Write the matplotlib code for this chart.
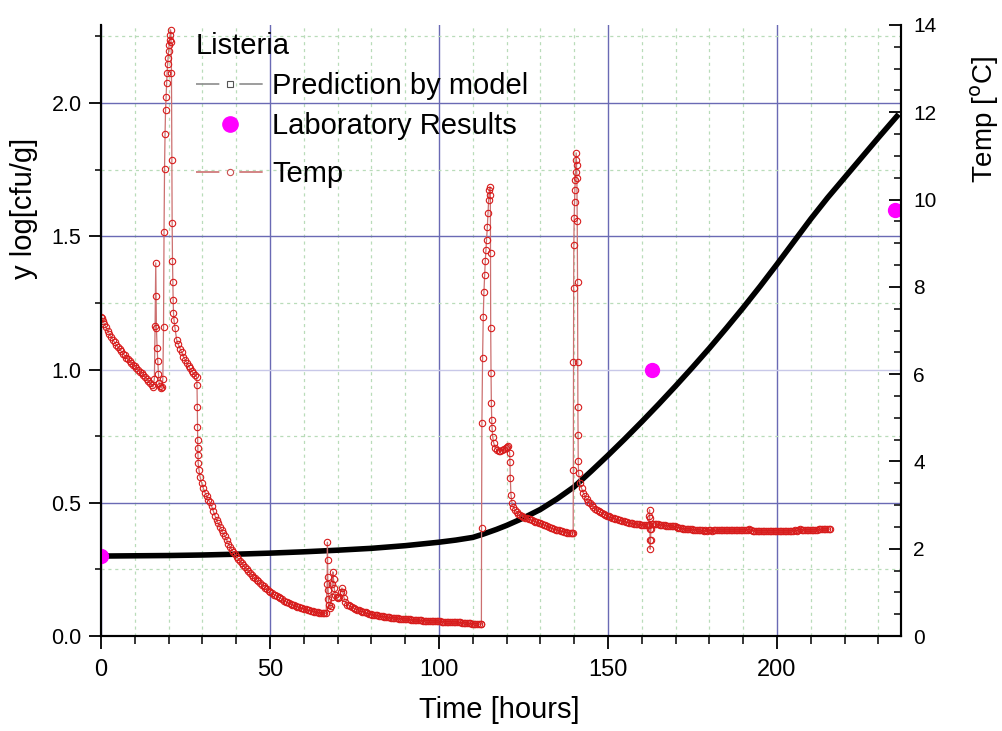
import matplotlib
matplotlib.use("Agg")
import matplotlib.pyplot as plt
from matplotlib.lines import Line2D
from matplotlib.ticker import MultipleLocator, FormatStrFormatter

plt.rcParams['font.family'] = ['Liberation Sans', 'DejaVu Sans']

# ---------------- data ----------------
model_time = [0, 10, 20, 30, 40, 50, 60, 70, 80, 90, 100, 105, 110, 113, 117, 120,
              125, 130, 135, 140, 145, 150, 155, 160, 165, 170, 175, 180, 185, 190,
              195, 200, 205, 210, 215, 220, 225, 230, 236]
model_log = [0.300, 0.301, 0.302, 0.304, 0.307, 0.311, 0.316, 0.322, 0.329, 0.339,
             0.352, 0.360, 0.370, 0.382, 0.400, 0.415, 0.443, 0.475, 0.515, 0.560,
             0.618, 0.678, 0.740, 0.804, 0.870, 0.938, 1.008, 1.080, 1.155, 1.232,
             1.312, 1.395, 1.480, 1.565, 1.645, 1.720, 1.795, 1.870, 1.958]

lab_time = [0, 163, 235]
lab_log = [0.30, 1.00, 1.60]

# temperature logger, segment by segment
seg1_time = [0.0, 0.3, 0.6, 1.0, 1.5, 2.0, 2.5, 3.0, 3.5, 4.0, 4.5, 5.0, 5.5, 6.0, 6.5,
             7.0, 7.5, 8.0, 8.5, 9.0, 9.5, 10.0, 10.5, 11.0, 11.5, 12.0, 12.5, 13.0,
             13.5, 14.0, 14.5, 15.0, 15.4]
seg1_temp = [7.32, 7.28, 7.22, 7.15, 7.07, 6.99, 6.92, 6.85, 6.79, 6.73, 6.67, 6.62,
             6.57, 6.52, 6.47, 6.43, 6.38, 6.34, 6.30, 6.26, 6.22, 6.18, 6.14, 6.10,
             6.06, 6.02, 5.98, 5.94, 5.90, 5.85, 5.80, 5.75, 5.70]

seg2_time = [15.8, 16.0, 16.2, 16.3, 16.4, 16.6, 16.8, 17.0, 17.2, 17.5, 17.8, 18.1,
             18.3, 18.5, 18.65, 18.8, 18.95, 19.1, 19.25, 19.4, 19.55, 19.7, 19.85,
             20.0, 20.15, 20.3, 20.45, 20.6, 20.75, 20.85, 20.95, 21.05, 21.15, 21.25,
             21.35, 21.45, 21.6, 21.9, 22.4, 22.9, 23.4, 23.9, 24.4, 24.9, 25.4, 25.9,
             26.3, 26.8, 27.3, 27.8, 28.3]
seg2_temp = [5.90, 7.10, 8.55, 7.80, 7.05, 6.60, 6.30, 6.00, 5.80, 5.72, 5.68, 5.70,
             5.90, 7.08, 9.26, 10.70, 11.50, 12.05, 12.35, 12.67, 12.90, 13.10, 13.25,
             13.40, 13.55, 13.65, 13.78, 13.89, 13.60, 12.90, 10.90, 9.46, 8.60, 8.10,
             7.70, 7.40, 7.24, 7.05, 6.78, 6.68, 6.58, 6.50, 6.40, 6.33, 6.26, 6.19,
             6.13, 6.07, 6.02, 5.98, 5.94]

seg3_time = [28.4, 28.5, 28.55, 28.6, 28.65, 28.7, 28.75, 29.0, 29.3, 29.8, 30.3, 30.8,
             31.3, 31.8, 32.2, 32.7, 33.2, 33.7, 34.2, 34.7, 35.2, 35.7, 36.2, 36.7,
             37.2, 37.7, 38.2, 38.7, 39.1, 39.6, 40.1, 40.6, 41.1, 41.6, 42.1, 42.6,
             43.1, 43.6, 44.1, 44.6, 45.1, 45.6, 46.1, 46.6, 47.1, 47.6, 48.1, 48.6,
             49.1, 49.6, 50.1, 50.6, 51.1, 51.6, 52.1, 52.6, 53.1, 53.6, 54.1, 54.6,
             55.1, 55.6, 56.1, 56.6, 57.1, 57.6, 58.1, 58.6, 59.1, 59.6, 60.1, 60.6,
             61.1, 61.6, 62.1, 62.6, 63.1, 63.6, 64.1, 64.6, 65.1, 65.6, 66.1, 66.6]
seg3_temp = [5.75, 5.25, 4.80, 4.50, 4.30, 4.15, 3.96, 3.80, 3.65, 3.50, 3.38, 3.28,
             3.20, 3.12, 3.07, 2.98, 2.87, 2.76, 2.66, 2.58, 2.50, 2.43, 2.35, 2.28,
             2.20, 2.11, 2.04, 1.98, 1.93, 1.87, 1.82, 1.77, 1.72, 1.67, 1.62, 1.57,
             1.53, 1.49, 1.44, 1.40, 1.36, 1.32, 1.28, 1.25, 1.21, 1.18, 1.14, 1.11,
             1.07, 1.04, 1.01, 0.98, 0.95, 0.93, 0.91, 0.89, 0.87, 0.84, 0.81, 0.79,
             0.77, 0.75, 0.73, 0.71, 0.70, 0.69, 0.67, 0.66, 0.65, 0.64, 0.62, 0.61,
             0.60, 0.59, 0.58, 0.57, 0.56, 0.55, 0.54, 0.53, 0.53, 0.52, 0.52, 0.52]

seg4_time = [66.9, 67.0, 67.05, 67.1, 67.2, 67.3, 67.45, 67.7, 68.0, 68.2, 68.4, 68.6,
             68.8, 69.0, 69.3, 69.7, 70.1, 70.5, 70.9, 71.3, 71.6, 71.9, 72.3, 72.8,
             73.3, 73.8, 74.3, 74.8, 75.3, 75.8, 76.3, 76.8, 77.3, 77.8, 78.3, 78.8,
             79.3, 79.8, 80.3, 80.8, 81.3, 81.8, 82.3, 82.8, 83.3, 83.8, 84.3, 84.8,
             85.3, 85.8, 86.3, 86.8, 87.3, 87.8, 88.3, 88.8, 89.3, 89.8, 90.3, 90.8,
             91.3, 91.8, 92.3, 92.8, 93.3, 93.8, 94.3, 94.8, 95.3, 95.8, 96.3, 96.8,
             97.3, 97.8, 98.3, 98.8, 99.3, 99.8, 100.3, 100.8, 101.3, 101.8, 102.3,
             102.8, 103.3, 103.8, 104.3, 104.8, 105.3, 105.8, 106.3, 106.8, 107.3,
             107.8, 108.3, 108.8, 109.3, 109.8, 110.3, 110.8, 111.3, 111.8, 112.3, 112.55]
seg4_temp = [1.20, 2.15, 1.75, 1.35, 1.05, 0.85, 0.70, 0.65, 0.68, 0.90, 1.20, 1.47,
             1.30, 1.10, 0.95, 0.90, 0.88, 0.90, 1.00, 1.10, 1.00, 0.88, 0.78, 0.72,
             0.70, 0.68, 0.66, 0.64, 0.62, 0.60, 0.59, 0.57, 0.56, 0.55, 0.54, 0.52,
             0.51, 0.50, 0.49, 0.48, 0.48, 0.47, 0.46, 0.46, 0.45, 0.44, 0.44, 0.43,
             0.43, 0.42, 0.42, 0.41, 0.41, 0.41, 0.40, 0.40, 0.39, 0.39, 0.38, 0.38,
             0.38, 0.37, 0.37, 0.37, 0.36, 0.36, 0.36, 0.36, 0.35, 0.35, 0.35, 0.35,
             0.35, 0.34, 0.34, 0.34, 0.34, 0.34, 0.34, 0.33, 0.33, 0.33, 0.33,
             0.33, 0.32, 0.32, 0.32, 0.32, 0.31, 0.31, 0.31, 0.30, 0.30,
             0.30, 0.29, 0.29, 0.29, 0.28, 0.28, 0.28, 0.28, 0.27, 0.27, 0.27]

seg5_time = [112.6, 112.7, 112.9, 113.1, 113.3, 113.5, 113.7, 113.9, 114.1, 114.3,
             114.5, 114.7, 114.9, 115.1, 115.2, 115.25, 115.3, 115.4, 115.5, 115.6,
             115.7, 115.9, 116.2, 116.7, 117.2, 117.7, 118.2, 118.7, 119.2, 119.7,
             120.2, 120.5, 120.9, 121.0, 121.1, 121.3, 121.6, 122.0, 122.5, 123.0,
             123.5, 124.0, 124.5, 125.0, 125.5, 126.0, 126.5, 127.0, 127.5, 128.0,
             128.5, 129.0, 129.5, 130.0, 130.5, 131.0, 131.5, 132.0, 132.5, 133.0,
             133.5, 134.0, 134.5, 135.0, 135.5, 136.0, 136.5, 137.0, 137.5, 138.0,
             138.5, 139.0, 139.5]
seg5_temp = [2.47, 4.88, 6.37, 7.31, 7.88, 8.27, 8.60, 8.85, 9.07, 9.37,
             9.69, 9.99, 10.22, 10.29, 10.10, 8.78, 7.06, 6.03, 5.34, 4.95,
             4.76, 4.56, 4.42, 4.30, 4.26, 4.24, 4.24, 4.26, 4.28, 4.30,
             4.33, 4.35, 4.20, 3.99, 3.62, 3.23, 3.05, 2.95, 2.89, 2.84,
             2.80, 2.77, 2.75, 2.73, 2.71, 2.70, 2.68, 2.67, 2.65, 2.64,
             2.62, 2.61, 2.60, 2.59, 2.57, 2.55, 2.54, 2.52, 2.50, 2.48,
             2.47, 2.45, 2.44, 2.43, 2.42, 2.41, 2.40, 2.39, 2.38, 2.37,
             2.37, 2.36, 2.36]

seg6_time = [139.7, 139.75, 139.8, 139.85, 139.9, 140.0, 140.1, 140.2, 140.3, 140.4,
             140.5, 140.6, 140.7, 140.8, 140.9, 141.0, 141.05, 141.1, 141.15, 141.2,
             141.3, 141.7, 142.2, 142.7, 143.2, 143.7, 144.2, 144.7, 145.2, 145.7,
             146.2, 146.7, 147.2, 147.7, 148.2, 148.7, 149.2, 149.7, 150.2, 150.7,
             151.2, 151.7, 152.2, 152.7, 153.2, 153.7, 154.2, 154.7, 155.2, 155.7,
             156.2, 156.7, 157.2, 157.7, 158.2, 158.7, 159.2, 159.7, 160.2, 160.7,
             161.2, 161.7, 162.1, 162.25, 162.3, 162.35, 162.4, 162.45, 162.5, 162.6,
             162.7, 162.9, 163.3]
seg6_temp = [2.36, 3.80, 6.28, 7.97, 8.96, 9.58, 9.95, 10.22, 10.45, 10.63,
             10.90, 11.07, 10.80, 10.50, 9.50, 8.10, 6.28, 5.25, 4.60, 4.00,
             3.73, 3.50, 3.38, 3.28, 3.20, 3.13, 3.08, 3.05, 3.00, 2.96,
             2.92, 2.89, 2.86, 2.84, 2.82, 2.80, 2.78, 2.76, 2.74, 2.72,
             2.71, 2.70, 2.68, 2.67, 2.66, 2.65, 2.64, 2.63, 2.62, 2.61,
             2.60, 2.59, 2.58, 2.57, 2.57, 2.56, 2.56, 2.55, 2.55, 2.54,
             2.54, 2.54, 2.55, 2.75, 2.89, 2.70, 2.45, 2.20, 1.99, 2.20,
             2.45, 2.57, 2.57]

seg7_time = [163.8, 164.3, 164.8, 165.3, 165.8, 166.3, 166.8, 167.3, 167.8, 168.3,
             168.8, 169.3, 169.8, 170.3, 170.8, 171.3, 171.8, 172.3, 172.8, 173.3,
             173.8, 174.3, 174.8, 175.3, 175.8, 176.3, 176.8, 177.3, 177.8, 178.3,
             178.8, 179.3, 179.8, 180.3, 180.8, 181.3, 181.8, 182.3, 182.8, 183.3,
             183.8, 184.3, 184.8, 185.3, 185.8, 186.3, 186.8, 187.3, 187.8, 188.3,
             188.8, 189.3, 189.8, 190.3, 190.8, 191.3, 191.8, 192.3, 192.8, 193.3,
             193.8, 194.3, 194.8, 195.3, 195.8, 196.3, 196.8, 197.3, 197.8, 198.3,
             198.8, 199.3, 199.8, 200.3, 200.8, 201.3, 201.8, 202.3, 202.8, 203.3,
             203.8, 204.3, 204.8, 205.3, 205.8, 206.3, 206.8, 207.3, 207.8, 208.3,
             208.8, 209.3, 209.8, 210.3, 210.8, 211.3, 211.8, 212.3, 212.8, 213.3,
             213.8, 214.3, 214.8, 215.3, 215.7]
seg7_temp = [2.57, 2.56, 2.56, 2.55, 2.55, 2.54, 2.54, 2.53, 2.53, 2.52,
             2.52, 2.51, 2.51, 2.50, 2.48, 2.47, 2.47, 2.46, 2.46, 2.46,
             2.45, 2.45, 2.45, 2.44, 2.44, 2.44, 2.43, 2.43, 2.42, 2.41,
             2.42, 2.41, 2.43, 2.42, 2.41, 2.43, 2.42, 2.42, 2.43, 2.43,
             2.42, 2.43, 2.43, 2.43, 2.43, 2.43, 2.43, 2.43, 2.43, 2.43,
             2.43, 2.43, 2.43, 2.43, 2.43, 2.44, 2.45, 2.44, 2.41, 2.41,
             2.41, 2.41, 2.41, 2.41, 2.41, 2.41, 2.41, 2.41, 2.41, 2.41,
             2.41, 2.41, 2.41, 2.41, 2.41, 2.41, 2.41, 2.41, 2.41, 2.41,
             2.41, 2.41, 2.41, 2.43, 2.41, 2.43, 2.45, 2.43, 2.43, 2.43,
             2.43, 2.43, 2.43, 2.43, 2.43, 2.43, 2.43, 2.45, 2.45, 2.45,
             2.45, 2.45, 2.45, 2.45, 2.45]

temp_time = (seg1_time + seg2_time + seg3_time + seg4_time + seg5_time
             + seg6_time + seg7_time)
temp_c = (seg1_temp + seg2_temp + seg3_temp + seg4_temp + seg5_temp
          + seg6_temp + seg7_temp)
assert len(temp_time) == len(temp_c)

x_ticks = [0, 50, 100, 150, 200]

# ---------------- figure ----------------
W, H = 1002, 731
fig = plt.figure(figsize=(W / 100, H / 100), dpi=100)
ax = fig.add_axes([101 / W, 95 / H, 800 / W, 611 / H])
ax2 = ax.twinx()

ax.set_xlim(0, 236.7)
ax.set_ylim(0, 2.293)
ax2.set_ylim(0, 14)

# grids
ax.set_axisbelow(True)
ax.xaxis.set_major_locator(MultipleLocator(50))
ax.xaxis.set_minor_locator(MultipleLocator(10))
ax.yaxis.set_major_locator(MultipleLocator(0.5))
ax.yaxis.set_minor_locator(MultipleLocator(0.25))
ax2.yaxis.set_major_locator(MultipleLocator(2))
ax2.yaxis.set_minor_locator(MultipleLocator(0.5))

ax.grid(which='major', color='#6a6ab4', lw=1.0)
ax.grid(which='minor', color='#b9dcb9', lw=0.9, ls=(0, (2.5, 3)))
for tick_val, gl in zip(ax.get_yticks(), ax.yaxis.get_gridlines()):
    if abs(tick_val - 1.0) < 1e-6:
        gl.set_color('#c8c8e8')

# model curve and lab results
ax.plot(model_time, model_log, color='black', lw=4.0, solid_capstyle='butt', zorder=3)
ax.plot(lab_time, lab_log, ls='none', marker='o', ms=10, color='#ff00ff',
        mec='#ff00ff', zorder=4)

# temperature
ax2.plot(temp_time, temp_c, color='#cc7070', lw=0.9, marker='o', ms=4.6,
         mfc='none', mec='#d81c1c', mew=0.8)

# spines
for a in (ax, ax2):
    a.spines['top'].set_visible(False)
    for s in ('left', 'right', 'bottom'):
        a.spines[s].set_linewidth(1.5)
        a.spines[s].set_color('black')

# ticks
ax.set_xticks(x_ticks)
ax.tick_params(axis='x', which='major', direction='out', length=9, width=1.3,
               labelsize=17, pad=7.5)
ax.tick_params(axis='x', which='minor', direction='out', length=6, width=1.1)
ax.tick_params(axis='y', which='major', direction='out', length=9, width=1.3,
               labelsize=15.5, pad=5)
ax.tick_params(axis='y', which='minor', direction='out', length=4.5, width=1.1)
ax.yaxis.set_major_formatter(FormatStrFormatter('%.1f'))
ax2.tick_params(axis='y', which='major', direction='in', length=9, width=1.3,
                labelsize=15, pad=9)
ax2.tick_params(axis='y', which='minor', direction='in', length=5, width=1.1)

# axis labels
ax.set_xlabel('Time [hours]', fontsize=21)
ax.xaxis.set_label_coords(0.498, -0.098)
ax.set_ylabel('y log[cfu/g]', fontsize=21)
ax.yaxis.set_label_coords(-0.079, 0.70)
ax2.set_ylabel('Temp [$^\\mathrm{o}$C]', fontsize=20)
ax2.yaxis.set_label_coords(1.084, 0.845)

# legends
h_model = Line2D([], [], color='#8c8c8c', lw=1.2, dashes=(14, 12), marker='s',
                 ms=4, mfc='white', mec='#555555', mew=0.8)
h_lab = Line2D([], [], ls='none', marker='o', ms=11, color='#ff00ff')
h_temp = Line2D([], [], color='#cc7070', lw=1.2, dashes=(14, 12), marker='o',
                ms=4.5, mfc='white', mec='#cc5050', mew=0.8)

leg1 = ax.legend([h_model, h_lab], ['Prediction by model', 'Laboratory Results'],
                 title='Listeria', alignment='left', loc='upper left',
                 bbox_to_anchor=(196 / W, 1 - 32 / H), bbox_transform=fig.transFigure,
                 frameon=False, fontsize=21, title_fontsize=21, handlelength=2.3,
                 handletextpad=0.32, labelspacing=0.42, borderpad=0, borderaxespad=0)
leg2 = ax2.legend([h_temp], ['Temp'], loc='upper left',
                  bbox_to_anchor=(196 / W, 1 - 160 / H), bbox_transform=fig.transFigure,
                  frameon=False, fontsize=21, handlelength=2.3, handletextpad=0.32,
                  borderpad=0, borderaxespad=0)

fig.savefig('out.png', dpi=100)
